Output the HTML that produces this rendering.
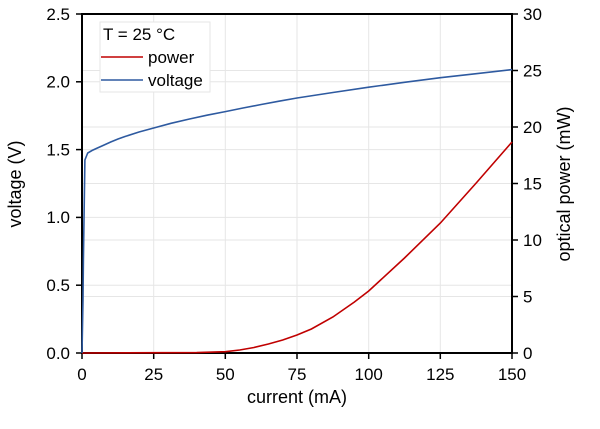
<!DOCTYPE html>
<html><head><style>body{margin:0;background:#fff}</style></head><body>
<svg width="600" height="424" xmlns="http://www.w3.org/2000/svg" font-family="Liberation Sans, Arial, sans-serif" font-size="17" fill="#000">
<g stroke="#e6e6e6" stroke-width="1">
<line x1="153.7" y1="14" x2="153.7" y2="353"/><line x1="225.3" y1="14" x2="225.3" y2="353"/><line x1="297" y1="14" x2="297" y2="353"/><line x1="368.7" y1="14" x2="368.7" y2="353"/><line x1="440.3" y1="14" x2="440.3" y2="353"/>
<line x1="82" y1="285.2" x2="512" y2="285.2"/><line x1="82" y1="217.4" x2="512" y2="217.4"/><line x1="82" y1="149.6" x2="512" y2="149.6"/><line x1="82" y1="81.8" x2="512" y2="81.8"/>
<line x1="82" y1="296.5" x2="512" y2="296.5"/><line x1="82" y1="240" x2="512" y2="240"/><line x1="82" y1="183.5" x2="512" y2="183.5"/><line x1="82" y1="127" x2="512" y2="127"/><line x1="82" y1="70.5" x2="512" y2="70.5"/>
</g>
<rect x="82" y="14" width="430" height="339" fill="none" stroke="#000" stroke-width="2"/>
<g stroke="#000" stroke-width="1.5">
<line x1="82" y1="353" x2="82" y2="359"/><line x1="153.7" y1="353" x2="153.7" y2="359"/><line x1="225.3" y1="353" x2="225.3" y2="359"/><line x1="297" y1="353" x2="297" y2="359"/><line x1="368.7" y1="353" x2="368.7" y2="359"/><line x1="440.3" y1="353" x2="440.3" y2="359"/><line x1="512" y1="353" x2="512" y2="359"/>
<line x1="76" y1="353" x2="82" y2="353"/><line x1="76" y1="285.2" x2="82" y2="285.2"/><line x1="76" y1="217.4" x2="82" y2="217.4"/><line x1="76" y1="149.6" x2="82" y2="149.6"/><line x1="76" y1="81.8" x2="82" y2="81.8"/><line x1="76" y1="14" x2="82" y2="14"/>
<line x1="512" y1="353" x2="518" y2="353"/><line x1="512" y1="296.5" x2="518" y2="296.5"/><line x1="512" y1="240" x2="518" y2="240"/><line x1="512" y1="183.5" x2="518" y2="183.5"/><line x1="512" y1="127" x2="518" y2="127"/><line x1="512" y1="70.5" x2="518" y2="70.5"/><line x1="512" y1="14" x2="518" y2="14"/>
</g>
<g text-anchor="middle">
<text x="82" y="380">0</text><text x="153.7" y="380">25</text><text x="225.3" y="380">50</text><text x="297" y="380">75</text><text x="368.7" y="380">100</text><text x="440.3" y="380">125</text><text x="512" y="380">150</text>
</g>
<g text-anchor="end">
<text x="70" y="359">0.0</text><text x="70" y="291">0.5</text><text x="70" y="223">1.0</text><text x="70" y="155.5">1.5</text><text x="70" y="87.5">2.0</text><text x="70" y="20">2.5</text>
</g>
<g text-anchor="start">
<text x="523" y="359">0</text><text x="523" y="302.5">5</text><text x="523" y="246">10</text><text x="523" y="189.5">15</text><text x="523" y="133">20</text><text x="523" y="76.5">25</text><text x="523" y="20">30</text>
</g>
<text x="297" y="403" text-anchor="middle" font-size="18">current (mA)</text>
<text transform="translate(21,184) rotate(-90)" text-anchor="middle" font-size="18">voltage (V)</text>
<text transform="translate(570,184) rotate(-90)" text-anchor="middle" font-size="18">optical power (mW)</text>
<polyline fill="none" stroke="#c00000" stroke-width="1.6" points="82,353 196.7,352.6 225.3,351.7 239.7,350 254,347.5 268.4,344 282.7,340 297,335 311.4,329 332.9,317 354.4,302 368.7,291 404.5,258 440.4,223 476.2,183 512,142"/>
<polyline fill="none" stroke="#2e5aa0" stroke-width="1.6" points="82,353 83,300 83.4,260 84.9,160 87.7,153 92,150.5 96.3,148.5 103,145.5 110.7,142 118,139 125,136.5 139,132 153.7,128 171,123.3 189.5,119 207,115.2 225.3,111.6 243,108 261.2,104.5 279,101.2 297,98 332.9,92.5 368.7,87.2 404.5,82.3 440.4,77.7 476.2,73.7 512,69.6"/>
<rect x="100" y="22" width="110" height="70" fill="#fff" stroke="#e6e6e6"/>
<text x="103" y="40">T = 25 °C</text>
<line x1="101" y1="57" x2="143" y2="57" stroke="#c00000" stroke-width="1.6"/>
<text x="148" y="63">power</text>
<line x1="101" y1="80" x2="143" y2="80" stroke="#2e5aa0" stroke-width="1.6"/>
<text x="148" y="86">voltage</text>
</svg>
</body></html>
